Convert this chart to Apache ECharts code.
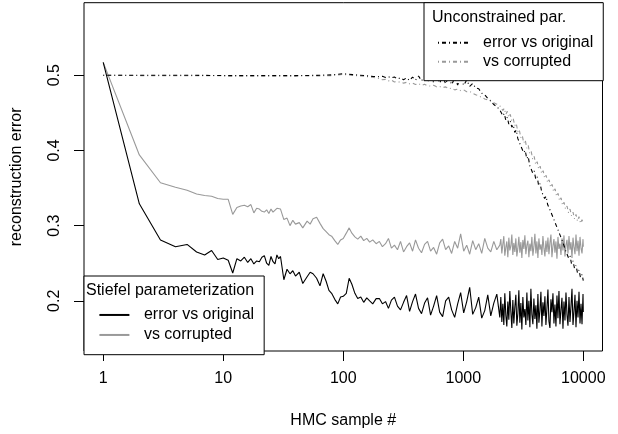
<!DOCTYPE html>
<html>
<head>
<meta charset="utf-8">
<script src="https://cdn.jsdelivr.net/npm/echarts@6/dist/echarts.min.js"></script>
<style>
html,body{margin:0;padding:0;background:#fff;}
#chart{width:618px;height:434px;}
</style>
</head>
<body>
<div id="chart"></div>
<script>
// ---- data ----
const xTickValues = [1, 10, 100, 1000, 10000];
const yTickValues = [0.2, 0.3, 0.4, 0.5];

// sample indices
const stiefelHeadN = [1,2,3,4,5,6,7,8,9,10,11,12,13,14,15,16,17,18,19,20,21,22,23,24,25,26,27,28,29,30,
  32,34,36,38,40,43,46,50,53,56,60,64,68,72,76,80,85,90,95,100,106,112,118,125,132,140,148,157,166,176,188];
const uncHeadN = [1,2,5,10,20,40,60,80,100,120,150,175];
const noiseA = [200,212,225,238,252,267,283,300,318,337,357,378,400,424,449,476,504,534,566,600,636,673,713,756,800,848,898,951,1008,1068,1131,1198,1270,1345,1425,1510,1600,1695,1796,1903,2016];
const noiseB = [2075,2135,2197,2261,2327,2395,2464,2536,2610,2686,2764,2844,2927,3012,3100,3190,3283,3378,3476,3577,3681,3788,3898,4012,4128,4248,4372,4499,4629,4764,4902,5045,5191,5342,5498,5657,5822,5991,6165,6344,6529,6718,6914,7115,7321,7534,7753,7978,8210,8449,8694,8947,9207,9474,9750,10000];
const noiseDense = [2055,2095,2136,2177,2219,2262,2306,2351,2397,2443,2491,2539,2588,2638,2690,2742,2795,2849,2905,2961,
  3019,3077,3137,3198,3260,3323,3388,3454,3521,3589,3659,3730,3802,3876,3951,4028,4106,4186,4267,4350,
  4435,4521,4609,4698,4789,4882,4977,5074,5172,5273,5375,5479,5586,5694,5805,5917,6032,6149,6269,6391,
  6515,6641,6770,6902,7036,7172,7312,7453,7598,7746,7896,8049,8206,8365,8527,8693,8862,9034,9209,9388,
  9570,9756,9945,10000];

// Stiefel parameterization: error vs original
const stiefelOrigHead = [0.517,0.329,0.281,0.272,0.275,0.265,0.261,0.267,0.255,0.257,0.254,0.237,0.256,0.253,0.258,0.251,0.256,0.249,0.253,0.252,0.258,0.260,0.250,0.247,0.259,0.252,0.249,0.261,0.256,0.259,
  0.228,0.242,0.236,0.240,0.233,0.238,0.223,0.232,0.238,0.236,0.230,0.220,0.236,0.226,0.214,0.210,0.202,0.196,0.205,0.206,0.210,0.230,0.222,0.210,0.203,0.205,0.198,0.204,0.200,0.196,0.203];
const stiefelOrigA = [0.203,0.196,0.199,0.190,0.201,0.205,0.193,0.188,0.198,0.207,
  0.186,0.199,0.209,0.190,0.183,0.197,0.204,0.181,0.193,0.207,
  0.185,0.179,0.200,0.205,0.188,0.178,0.196,0.211,0.184,0.199,
  0.218,0.182,0.191,0.205,0.177,0.187,0.208,0.180,0.197,0.209,0.178];
const stiefelOrigB = [0.205,0.172,0.196,0.168,0.210,0.181,0.166,0.199,0.175,0.213,
  0.186,0.164,0.201,0.170,0.192,0.208,0.167,0.183,0.214,0.171,
  0.197,0.162,0.205,0.178,0.189,0.168,0.211,0.174,0.200,0.165,
  0.216,0.182,0.169,0.203,0.176,0.194,0.163,0.209,0.171,0.187,
  0.212,0.166,0.198,0.180,0.206,0.168,0.190,0.215,0.173,0.164,
  0.202,0.185,0.210,0.170,0.195,0.166,0.207,0.177,0.213,0.169,
  0.188,0.204,0.163,0.199,0.174,0.211,0.182,0.167,0.205,0.172,
  0.193,0.216,0.168,0.186,0.208,0.165,0.200,0.178,0.212,0.170,
  0.196,0.169,0.209,0.185];

// Stiefel parameterization: vs corrupted
const stiefelCorrHead = [0.517,0.394,0.357,0.351,0.347,0.342,0.340,0.339,0.336,0.335,0.335,0.315,0.324,0.326,0.327,0.325,0.328,0.317,0.323,0.322,0.319,0.318,0.321,0.316,0.322,0.318,0.320,0.323,0.321,0.322,
  0.308,0.310,0.300,0.307,0.302,0.304,0.297,0.306,0.302,0.309,0.311,0.303,0.296,0.292,0.288,0.286,0.280,0.275,0.281,0.283,0.290,0.297,0.290,0.285,0.282,0.286,0.280,0.283,0.278,0.281,0.276];
const stiefelCorrA = [0.279,0.272,0.276,0.283,0.270,0.274,0.268,0.279,0.265,0.272,
  0.277,0.266,0.281,0.270,0.264,0.275,0.279,0.266,0.271,0.262,
  0.277,0.282,0.268,0.273,0.263,0.279,0.270,0.289,0.266,0.274,
  0.262,0.280,0.268,0.276,0.263,0.283,0.270,0.265,0.279,0.268,0.274];
const stiefelCorrB = [0.282,0.263,0.275,0.286,0.260,0.271,0.279,0.258,0.284,0.267,
  0.273,0.288,0.261,0.277,0.265,0.283,0.259,0.270,0.285,0.264,
  0.278,0.257,0.281,0.269,0.287,0.262,0.274,0.280,0.258,0.276,
  0.266,0.285,0.260,0.272,0.289,0.263,0.279,0.257,0.283,0.268,
  0.275,0.261,0.286,0.270,0.259,0.280,0.265,0.284,0.262,0.277,
  0.288,0.258,0.273,0.282,0.264,0.279,0.256,0.285,0.269,0.276,
  0.261,0.283,0.267,0.287,0.259,0.274,0.281,0.263,0.286,0.268,
  0.278,0.257,0.284,0.271,0.262,0.288,0.266,0.280,0.260,0.285,
  0.270,0.263,0.282,0.272];

// Unconstrained parameterization: error vs original
const uncOrigHead = [0.500,0.500,0.500,0.4995,0.4995,0.4995,0.4998,0.5005,0.5020,0.5008,0.4995,0.4985];
const uncOrigA = [0.498,0.4985,0.497,0.498,0.4965,0.4975,0.495,0.4965,0.494,0.4965,
  0.493,0.4975,0.4935,0.499,0.4925,0.498,0.4915,0.4985,0.4905,0.4975,
  0.4895,0.4995,0.4885,0.4975,0.4875,0.496,0.487,0.498,0.4865,0.4935,
  0.485,0.489,0.483,0.482,0.476,0.474,0.469,0.466,0.461,0.458,0.454];
const uncOrigB = [0.454,0.446,0.449,0.440,0.444,0.435,0.439,0.431,0.434,0.424,
  0.427,0.416,0.418,0.406,0.408,0.397,0.400,0.389,0.392,0.380,
  0.382,0.370,0.373,0.362,0.365,0.353,0.356,0.345,0.347,0.336,
  0.339,0.328,0.330,0.319,0.321,0.309,0.311,0.299,0.301,0.289,
  0.291,0.279,0.280,0.267,0.269,0.257,0.260,0.249,0.253,0.243,
  0.247,0.237,0.241,0.231,0.235,0.227];

// Unconstrained parameterization: vs corrupted
const uncCorrHead = [0.500,0.4995,0.4995,0.4992,0.4990,0.4988,0.4990,0.4995,0.5010,0.4998,0.4985,0.4972];
const uncCorrA = [0.4955,0.494,0.4945,0.4925,0.4935,0.491,0.4915,0.4905,0.4895,0.4905,
  0.4885,0.4895,0.4875,0.489,0.4865,0.488,0.486,0.4855,0.4865,0.4845,
  0.485,0.4835,0.4845,0.482,0.483,0.4805,0.4815,0.4795,0.4805,0.478,
  0.4785,0.476,0.474,0.4725,0.4705,0.4685,0.467,0.4655,0.4635,0.4615,0.4595];
const uncCorrB = [0.461,0.453,0.456,0.448,0.452,0.444,0.448,0.439,0.442,0.433,
  0.436,0.425,0.428,0.417,0.420,0.410,0.414,0.403,0.407,0.396,
  0.399,0.388,0.392,0.381,0.385,0.375,0.379,0.369,0.373,0.363,
  0.367,0.357,0.361,0.351,0.355,0.345,0.349,0.339,0.343,0.333,
  0.337,0.327,0.331,0.322,0.326,0.317,0.322,0.313,0.318,0.309,
  0.315,0.306,0.312,0.303,0.308,0.303];

// ---- build ----
function pairs(xs, ys) { return xs.map((x, i) => [x, ys[i]]); }
const stiefelX = stiefelHeadN.concat(noiseA, noiseDense);
const uncX = uncHeadN.concat(noiseA, noiseB);

const FONT = "'Liberation Sans', Arial, Helvetica, sans-serif";
const GRAY = '#999999';
const DASHDOT = [1, 3, 4, 3];

const legendLabels = {
  'U-orig': 'error vs original', 'U-corr': 'vs corrupted',
  'S-orig': 'error vs original', 'S-corr': 'vs corrupted'
};

const chart = echarts.init(document.getElementById('chart'), null, {renderer: 'canvas'});
chart.setOption({
  animation: false,
  backgroundColor: '#fff',
  textStyle: {fontFamily: FONT, color: '#000'},
  grid: {left: 84, right: 15.5, top: 2.7, bottom: 79.3, show: true, borderColor: '#000', borderWidth: 1, backgroundColor: 'transparent'},
  title: [
    {text: 'Unconstrained par.', left: 432, top: 9.8, padding: 0, z: 10,
     textStyle: {fontSize: 16, fontWeight: 'normal', color: '#000', fontFamily: FONT}},
    {text: 'Stiefel parameterization', left: 86, top: 283, padding: 0, z: 10,
     textStyle: {fontSize: 16, fontWeight: 'normal', color: '#000', fontFamily: FONT}}
  ],
  legend: [
    {data: ['U-orig', 'U-corr'], orient: 'vertical', left: 424, top: 2.7,
     padding: [30.5, 10, 9.5, 13], itemGap: 0, itemWidth: 30, itemHeight: 12,
     borderColor: '#000', borderWidth: 1, backgroundColor: '#fff', z: 8,
     itemStyle: {opacity: 0},
     formatter: n => legendLabels[n], selectedMode: false,
     textStyle: {fontSize: 16, color: '#000', fontFamily: FONT, lineHeight: 19, padding: [0, 0, 0, 10]}},
    {data: ['S-orig', 'S-corr'], orient: 'vertical', left: 84, top: 276,
     padding: [29.2, 10, 10, 14.4], itemGap: 0.5, itemWidth: 30, itemHeight: 12,
     borderColor: '#000', borderWidth: 1, backgroundColor: '#fff', z: 8,
     itemStyle: {opacity: 0},
     formatter: n => legendLabels[n], selectedMode: false,
     textStyle: {fontSize: 16, color: '#000', fontFamily: FONT, lineHeight: 19.5, padding: [0, 0, 0, 9.5]}}
  ],
  xAxis: {
    type: 'log', logBase: 10, min: 0.6918, max: 14454,
    name: 'HMC sample #', nameLocation: 'middle', nameGap: 62,
    nameTextStyle: {fontSize: 16, color: '#000', fontFamily: FONT},
    axisLine: {show: false},
    axisTick: {show: true, length: 10, lineStyle: {color: '#000', width: 1}, customValues: xTickValues},
    axisLabel: {customValues: xTickValues, margin: 20, fontSize: 16, color: '#000', fontFamily: FONT,
      formatter: v => String(Math.round(v))},
    splitLine: {show: false}
  },
  yAxis: {
    type: 'value', min: 0.1333, max: 0.5964,
    name: 'reconstruction error', nameLocation: 'middle', nameGap: 59,
    nameTextStyle: {fontSize: 16, color: '#000', fontFamily: FONT},
    axisLine: {show: false},
    axisTick: {show: true, length: 10, lineStyle: {color: '#000', width: 1}, customValues: yTickValues},
    axisLabel: {customValues: yTickValues, rotate: 90, margin: 21.6, fontSize: 16, color: '#000', fontFamily: FONT,
      formatter: v => v.toFixed(1)},
    splitLine: {show: false}
  },
  series: [
    {name: 'S-corr', type: 'line', symbol: 'none', showSymbol: false,
     data: pairs(stiefelX, stiefelCorrHead.concat(stiefelCorrA, stiefelCorrB)),
     color: GRAY, lineStyle: {color: GRAY, width: 1.1}},
    {name: 'S-orig', type: 'line', symbol: 'none', showSymbol: false,
     data: pairs(stiefelX, stiefelOrigHead.concat(stiefelOrigA, stiefelOrigB)),
     color: '#000', lineStyle: {color: '#000', width: 1.1}},
    {name: 'U-corr', type: 'line', symbol: 'none', showSymbol: false,
     data: pairs(uncX, uncCorrHead.concat(uncCorrA, uncCorrB)),
     color: GRAY, lineStyle: {color: GRAY, width: 1.1, type: DASHDOT}},
    {name: 'U-orig', type: 'line', symbol: 'none', showSymbol: false,
     data: pairs(uncX, uncOrigHead.concat(uncOrigA, uncOrigB)),
     color: '#000', lineStyle: {color: '#000', width: 1.1, type: DASHDOT}}
  ]
});
</script>
</body>
</html>
